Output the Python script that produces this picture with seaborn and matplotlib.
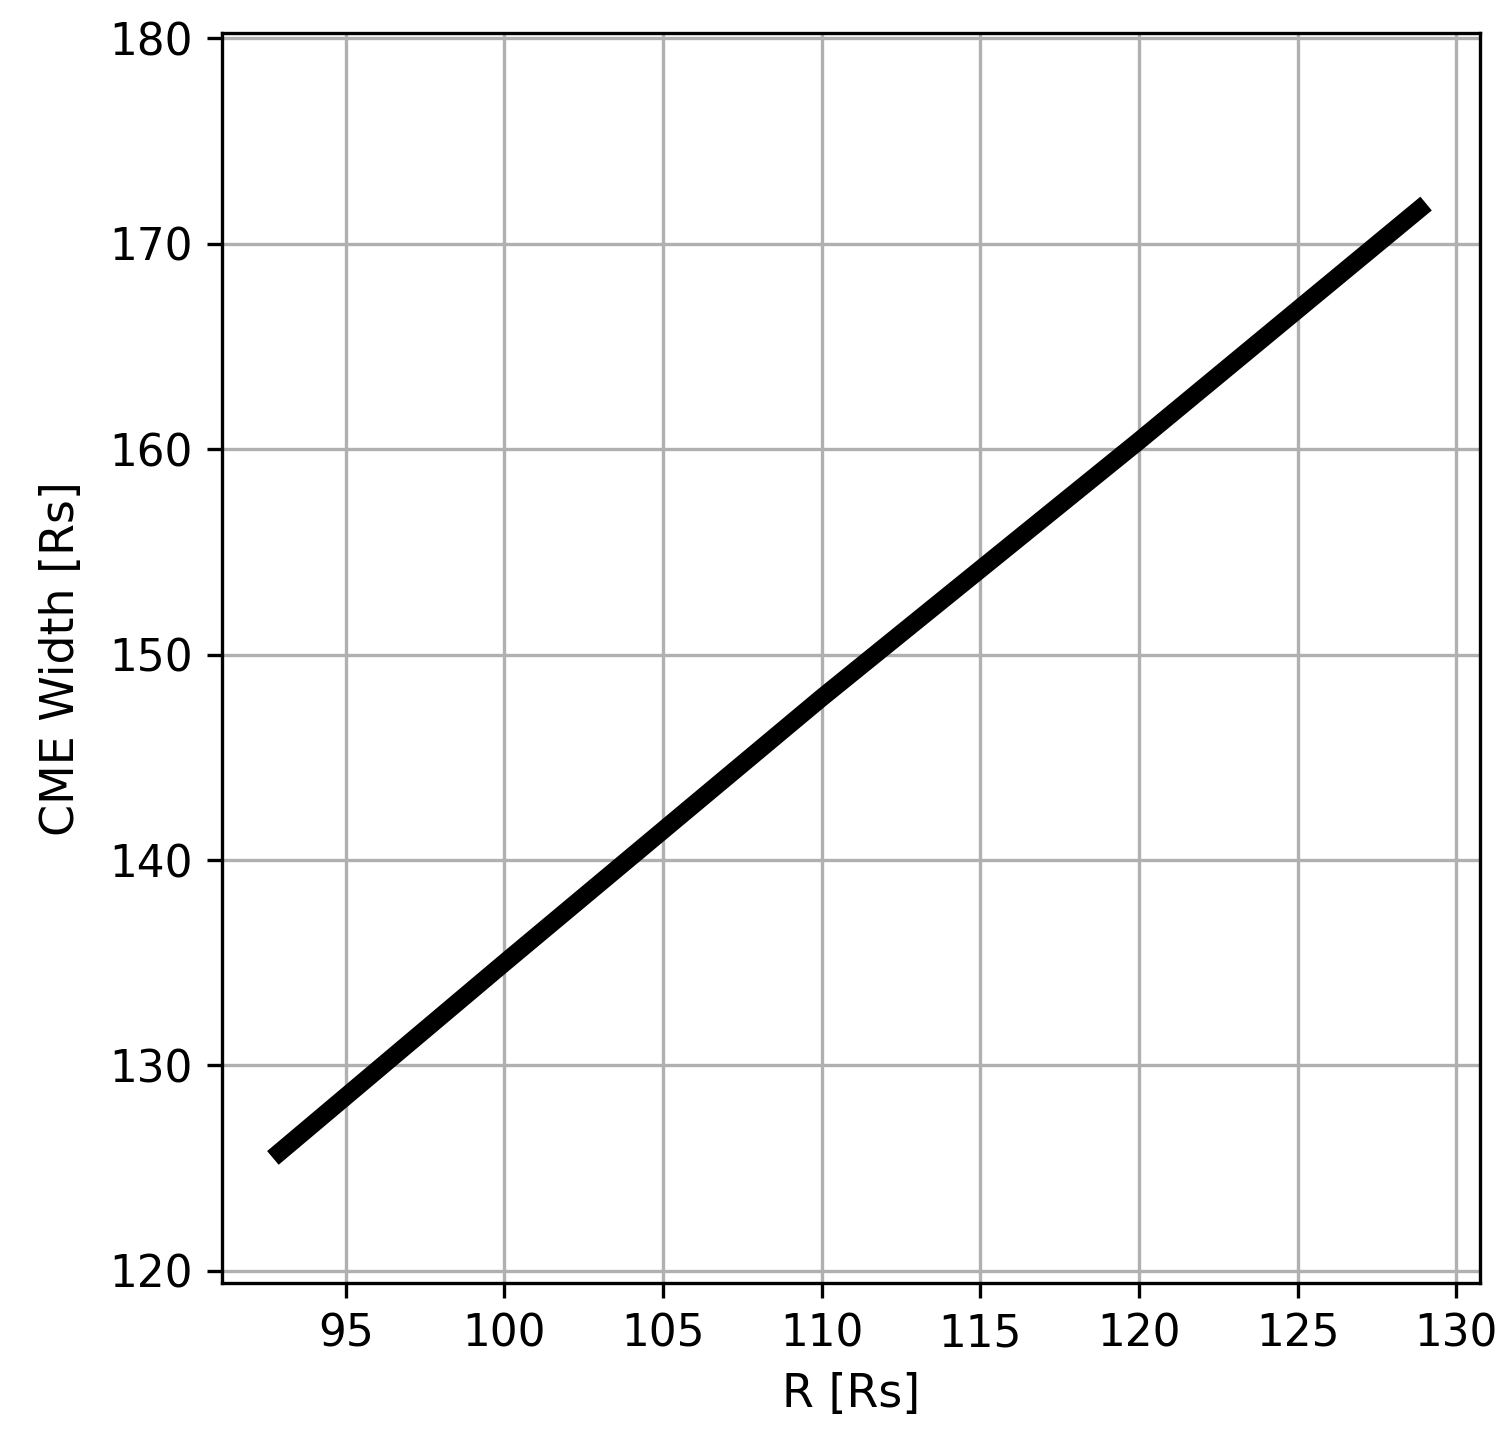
import matplotlib
matplotlib.use("Agg")
import matplotlib.pyplot as plt
import seaborn as sns
import pandas as pd

# values
r_rs = [92.7, 100.0, 110.0, 120.0, 129.05]
cme_width = [125.5, 135.0, 147.9, 160.4, 171.95]

df = pd.DataFrame({"R": r_rs, "width": cme_width})

sns.set_style("ticks")
plt.rcParams["font.family"] = ["DejaVu Sans"]
plt.rcParams["text.color"] = "black"
plt.rcParams["axes.labelcolor"] = "black"
plt.rcParams["xtick.color"] = "black"
plt.rcParams["ytick.color"] = "black"

fig = plt.figure(figsize=(1511 / 300, 1437 / 300), dpi=300)
ax = fig.add_axes([0.147, 0.107, 0.8325, 0.87])

sns.lineplot(data=df, x="R", y="width", color="black", linewidth=4.3, ax=ax)
ax.lines[0].set_solid_capstyle("butt")

ax.set_xlim(91.1, 130.75)
ax.set_ylim(119.4, 180.25)
ax.set_xticks(range(95, 131, 5))
ax.set_yticks(range(120, 181, 10))
ax.grid(True, color="#b0b0b0", linewidth=0.8)
ax.tick_params(labelsize=10.5, length=3.5, width=0.8, color="black", labelcolor="black")
for s in ax.spines.values():
    s.set_color("black")
    s.set_linewidth(0.8)
ax.set_xlabel("R [Rs]", fontsize=11, color="black")
ax.set_ylabel("CME Width [Rs]", fontsize=11, color="black", labelpad=6)

fig.savefig("out.png", dpi=300)
